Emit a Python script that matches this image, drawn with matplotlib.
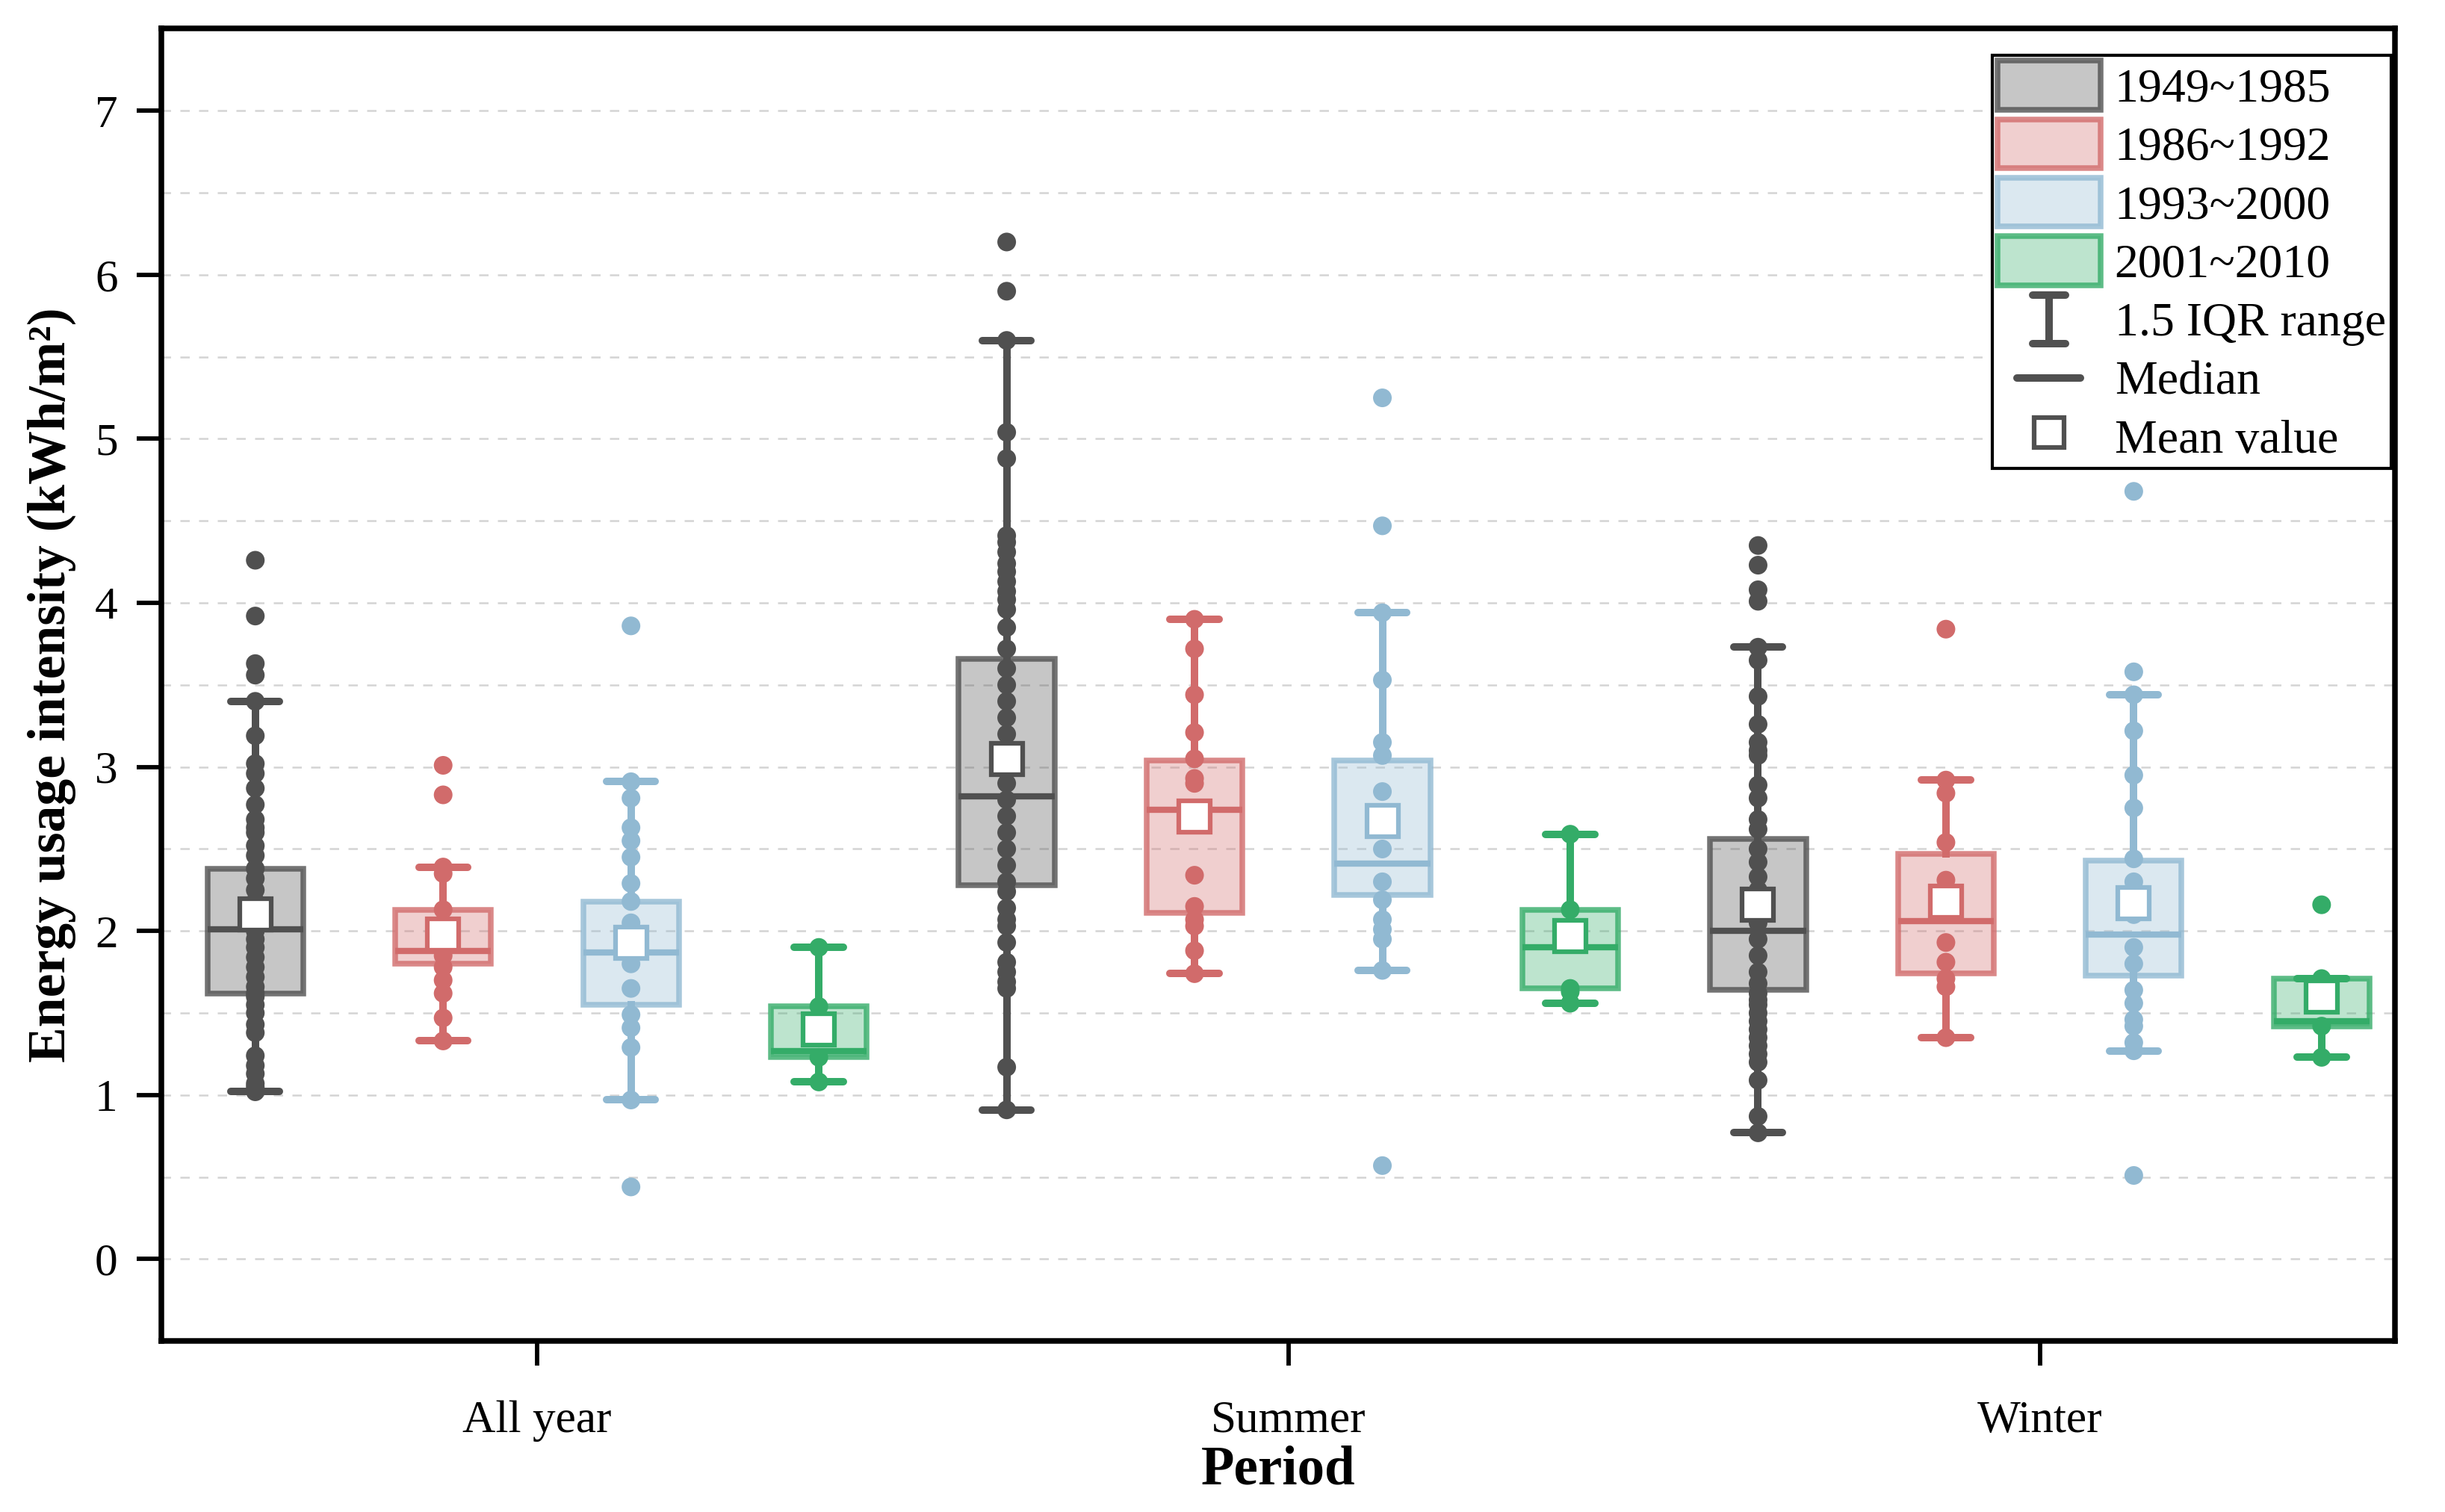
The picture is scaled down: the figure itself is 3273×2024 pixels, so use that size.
import matplotlib
matplotlib.use('Agg')
import matplotlib.pyplot as plt
from matplotlib.lines import Line2D
from matplotlib.patches import Patch
from matplotlib.legend_handler import HandlerBase
from matplotlib.ticker import MultipleLocator

plt.rcParams['font.family'] = ['Liberation Serif', 'DejaVu Serif']

periods = ["All year", "Summer", "Winter"]
cohorts = ["1949~1985", "1986~1992", "1993~2000", "2001~2010"]
colors = ["#505050", "#d16b6b", "#91b9d2", "#34ac68"]

# box statistics, one row per cohort, columns = periods
q1 = [[1.62, 2.28, 1.64], [1.80, 2.11, 1.74], [1.55, 2.22, 1.73], [1.23, 1.65, 1.42]]
q3 = [[2.38, 3.66, 2.56], [2.13, 3.04, 2.47], [2.18, 3.04, 2.43], [1.54, 2.13, 1.71]]
medians = [[2.01, 2.82, 2.00], [1.88, 2.74, 2.06], [1.87, 2.41, 1.98], [1.27, 1.90, 1.45]]
means = [[2.10, 3.05, 2.16], [1.98, 2.70, 2.18], [1.93, 2.67, 2.17], [1.40, 1.97, 1.60]]
whis_lo = [[1.02, 0.91, 0.77], [1.33, 1.74, 1.35], [0.97, 1.76, 1.27], [1.08, 1.56, 1.23]]
whis_hi = [[3.40, 5.60, 3.73], [2.39, 3.90, 2.92], [2.91, 3.94, 3.44], [1.90, 2.59, 1.71]]

# individual building values (strip points)
pts_1949 = [
    [4.26, 3.92, 3.63, 3.56, 3.40, 3.19, 3.02, 2.96, 2.87, 2.77, 2.68, 2.63, 2.60, 2.52, 2.46,
     2.38, 2.32, 2.25, 2.18, 2.12, 2.05, 2.00, 1.95, 1.90, 1.84, 1.78, 1.72, 1.66, 1.62,
     1.60, 1.55, 1.50, 1.43, 1.38, 1.24, 1.18, 1.13, 1.07, 1.05, 1.02],
    [6.20, 5.90, 5.60, 5.04, 4.88, 4.41, 4.37, 4.31, 4.24, 4.19, 4.13, 4.07, 4.02, 3.96, 3.85,
     3.72, 3.60, 3.50, 3.40, 3.30, 3.20, 3.10, 3.00, 2.90, 2.80, 2.70, 2.60, 2.50, 2.40, 2.30,
     2.24, 2.14, 2.07, 2.03, 1.93, 1.81, 1.75, 1.69, 1.65, 1.17, 0.91],
    [4.35, 4.23, 4.08, 4.01, 3.73, 3.65, 3.43, 3.26, 3.15, 3.10, 3.07, 2.89, 2.81, 2.68, 2.62,
     2.50, 2.42, 2.33, 2.25, 2.15, 2.05, 1.95, 1.85, 1.75, 1.68,
     1.62, 1.58, 1.55, 1.50, 1.45, 1.40, 1.35, 1.30, 1.25, 1.20, 1.09, 0.87, 0.77],
]
pts_1986 = [
    [3.01, 2.83, 2.39, 2.35, 2.13, 2.00, 1.92, 1.85, 1.78, 1.70, 1.62, 1.47, 1.33],
    [3.90, 3.72, 3.44, 3.21, 3.05, 2.93, 2.90, 2.34, 2.15, 2.07, 2.03, 1.88, 1.74],
    [3.84, 2.92, 2.84, 2.54, 2.31, 2.10, 1.93, 1.81, 1.71, 1.66, 1.35],
]
pts_1993 = [
    [3.86, 2.91, 2.81, 2.63, 2.55, 2.45, 2.29, 2.18, 2.05, 1.95, 1.80, 1.65, 1.49, 1.41,
     1.29, 0.97, 0.44],
    [5.25, 4.47, 3.94, 3.53, 3.15, 3.07, 2.85, 2.70, 2.50, 2.30, 2.19, 2.07, 2.01, 1.95,
     1.76, 0.57],
    [4.68, 3.58, 3.44, 3.22, 2.95, 2.75, 2.44, 2.30, 2.10, 1.90, 1.80, 1.64, 1.56, 1.46,
     1.42, 1.32, 1.27, 0.51],
]
pts_2001 = [
    [1.90, 1.54, 1.40, 1.23, 1.08],
    [2.59, 2.13, 1.65, 1.63, 1.56],
    [2.16, 1.71, 1.42, 1.23],
]
points = [pts_1949, pts_1986, pts_1993, pts_2001]


class IQRHandler(HandlerBase):
    def create_artists(self, legend, orig_handle, xdescent, ydescent,
                       width, height, fontsize, trans):
        cx = -xdescent + width / 2
        y0 = -ydescent + 0.0 * height
        y1 = -ydescent + 1.0 * height
        cw = width * 0.16
        kw = dict(color=colors[0], lw=2.4, solid_capstyle='round', transform=trans)
        return [Line2D([cx, cx], [y0, y1], **kw),
                Line2D([cx - cw, cx + cw], [y0, y0], **kw),
                Line2D([cx - cw, cx + cw], [y1, y1], **kw)]


class MedianHandler(HandlerBase):
    def create_artists(self, legend, orig_handle, xdescent, ydescent,
                       width, height, fontsize, trans):
        cx = -xdescent + width / 2
        cy = -ydescent + height / 2
        hw = width * 0.31
        return [Line2D([cx - hw, cx + hw], [cy, cy], color=colors[0], lw=2.4,
                       solid_capstyle='round', transform=trans)]


fig, ax = plt.subplots(figsize=(3273 / 300, 2024 / 300), dpi=300)
fig.subplots_adjust(left=0.066, right=0.9795, bottom=0.113, top=0.981)

n_groups = len(periods)
n_coh = len(cohorts)
for i in range(n_coh):
    pos = [g * n_coh + i for g in range(n_groups)]
    col = colors[i]
    # strip points first so the translucent boxes sit over them
    for g in range(n_groups):
        ys = points[i][g]
        ax.scatter([pos[g]] * len(ys), ys, s=36, color=col, edgecolors='none', zorder=2)
    stats = []
    for g in range(n_groups):
        stats.append(dict(med=medians[i][g], q1=q1[i][g], q3=q3[i][g],
                          whislo=whis_lo[i][g], whishi=whis_hi[i][g],
                          mean=means[i][g], fliers=[]))
    ax.bxp(stats, positions=pos, widths=0.51, patch_artist=True,
           showmeans=True, showfliers=False, manage_ticks=False,
           boxprops=dict(facecolor=matplotlib.colors.to_rgba(col, 0.32),
                         edgecolor=matplotlib.colors.to_rgba(col, 0.8), lw=1.8),
           whiskerprops=dict(color=col, lw=2.4),
           capprops=dict(color=col, lw=2.4, solid_capstyle='round'),
           capwidths=0.26,
           medianprops=dict(color=col, lw=2.0),
           meanprops=dict(marker='s', markerfacecolor='white', markeredgecolor=col,
                          markersize=10, markeredgewidth=1.5),
           zorder=3)

ax.set_xlim(-0.5, 11.39)
ax.set_ylim(-0.5, 7.5)
ax.set_xticks([g * n_coh + (n_coh - 1) / 2 for g in range(n_groups)])
ax.set_xticklabels(periods)
ax.yaxis.set_major_locator(MultipleLocator(1))
ax.yaxis.set_minor_locator(MultipleLocator(0.5))
ax.grid(axis='y', which='both', ls=(0, (5, 5)), color='#d4d4d4', lw=0.6, zorder=0)
ax.set_axisbelow(True)
ax.tick_params(axis='both', which='major', labelsize=14.7, length=8, width=1.4,
               direction='out', pad=6)
ax.tick_params(axis='x', pad=11)
ax.tick_params(axis='y', which='minor', length=0)
for sp in ax.spines.values():
    sp.set_linewidth(1.8)

ax.set_xlabel("Period", fontsize=17.5, fontweight='bold', labelpad=1)
ax.set_ylabel("Energy usage intensity (kWh/m²)", fontsize=17.2, fontweight='bold', labelpad=6)

handles = [Patch(facecolor=matplotlib.colors.to_rgba(c, 0.32),
                 edgecolor=matplotlib.colors.to_rgba(c, 0.8), lw=1.8) for c in colors]
iqr_h = Line2D([], [])
med_h = Line2D([], [], color=colors[0])
mean_h = Line2D([], [], ls='none', marker='s', markerfacecolor='white',
                markeredgecolor=colors[0], markersize=9.5, markeredgewidth=1.5)
handles += [iqr_h, med_h, mean_h]
labels = cohorts + ["1.5 IQR range", "Median", "Mean value"]
leg = ax.legend(handles, labels, loc='upper right', bbox_to_anchor=(0.9985, 0.98),
                fontsize=15.3, handlelength=2.15, handleheight=1.2, handletextpad=0.3,
                labelspacing=0.16, borderpad=0.12, borderaxespad=0.0, fancybox=False,
                edgecolor='black', framealpha=1,
                handler_map={iqr_h: IQRHandler(), med_h: MedianHandler()})
leg.get_frame().set_linewidth(1.0)

fig.savefig("out.png", dpi=300)
